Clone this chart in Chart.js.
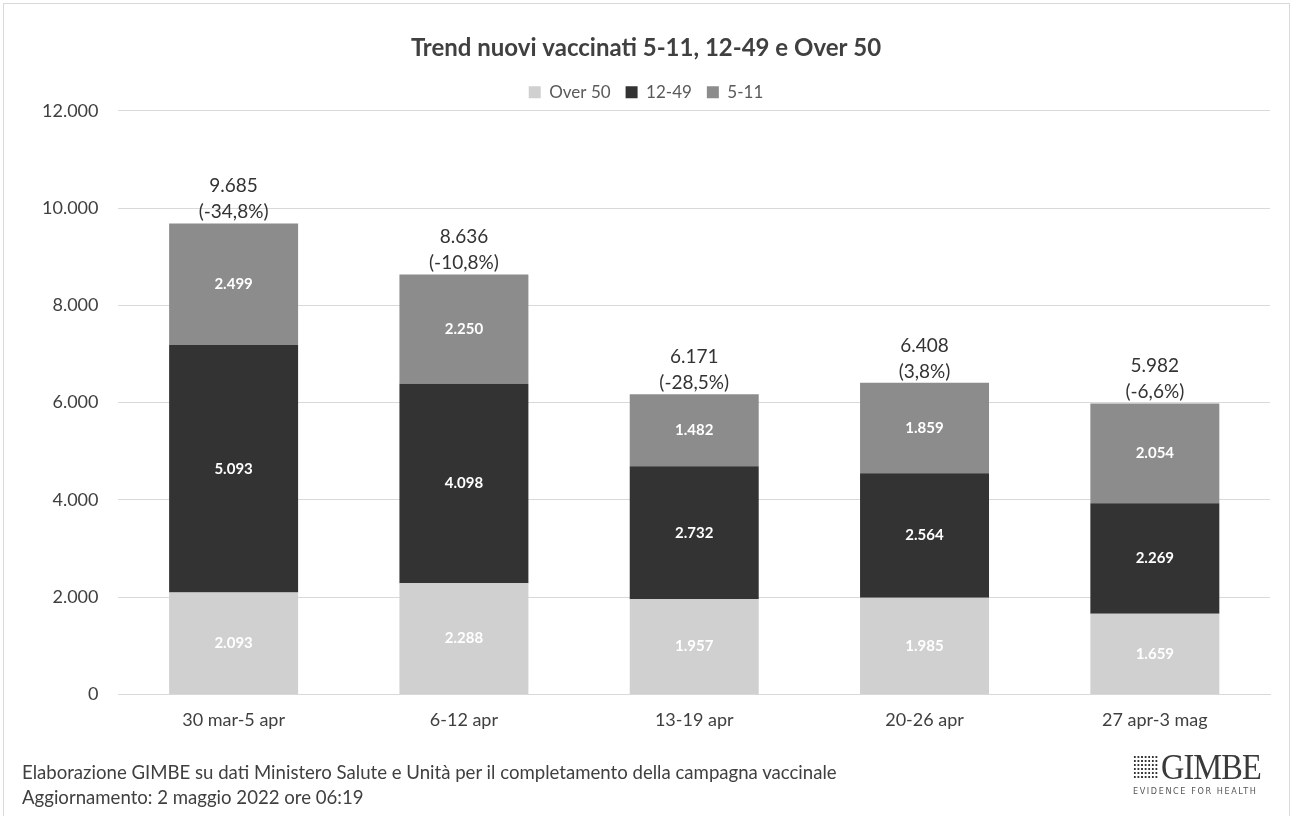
<!DOCTYPE html>
<html>
<head>
<meta charset="utf-8">
<script src="https://cdn.jsdelivr.net/npm/chart.js@4.4.1/dist/chart.umd.min.js"></script>
<style>
  html, body { margin: 0; padding: 0; background: #fff; }
  #wrap { position: relative; width: 1297px; height: 816px; overflow: hidden; font-family: Lato, "Open Sans", sans-serif; }
  #frame { position: absolute; left: 3px; top: 3px; width: 1287px; height: 830px; border: 1px solid #d9d9d9; box-sizing: border-box; }
  #chart-box { position: absolute; left: 0; top: 0; width: 1297px; height: 816px; }
  .note { position: absolute; left: 22px; color: #404040; font-size: 18.6px; }
  #logo { position: absolute; left: 1133px; top: 750px; color: #3a3a3a; }
  #logo .name { font-family: "Liberation Serif", serif; font-size: 36px; letter-spacing: -1px; line-height: 34px; transform: scaleX(0.9); transform-origin: left; white-space: nowrap; }
  #logo .tag { font-family: "DejaVu Sans Condensed", sans-serif; font-size: 9px; letter-spacing: 1.6px; color: #555; margin-top: 2px; }
  #logo .icon { display: inline-block; width: 28px; height: 24px; margin-right: 3px; vertical-align: 0px;
    background-image: radial-gradient(circle, #333 1.3px, transparent 1.5px); background-size: 4px 4px; }
</style>
</head>
<body>
<div id="wrap">
  <div id="frame"></div>
  <div id="chart-box"><canvas id="chart"></canvas></div>
  <div class="note" style="top:761px">Elaborazione GIMBE su dati Ministero Salute e Unità per il completamento della campagna vaccinale</div>
  <div class="note" style="top:786px">Aggiornamento: 2 maggio 2022 ore 06:19</div>
  <div id="logo"><div class="name"><span class="icon"></span>GIMBE</div><div class="tag">EVIDENCE FOR HEALTH</div></div>
</div>
<script>
// chart values
const weeks = ['30 mar-5 apr', '6-12 apr', '13-19 apr', '20-26 apr', '27 apr-3 mag'];
const over50 = [2093, 2288, 1957, 1985, 1659];
const age12to49 = [5093, 4098, 2732, 2564, 2269];
const age5to11 = [2499, 2250, 1482, 1859, 2054];
const weekTotals = [9685, 8636, 6171, 6408, 5982];
const weekChange = ['-34,8%', '-10,8%', '-28,5%', '3,8%', '-6,6%'];
const yTicks = [0, 2000, 4000, 6000, 8000, 10000, 12000];

const fmt = v => v.toLocaleString('it-IT');
const FONT = 'Lato, "Open Sans", sans-serif';

// white numbers inside each segment, totals + change above each stack
const barLabels = {
  id: 'barLabels',
  afterDatasetsDraw(chart) {
    const ctx = chart.ctx;
    ctx.save();
    ctx.textAlign = 'center';
    ctx.textBaseline = 'middle';
    ctx.font = 'bold 15px ' + FONT;
    ctx.fillStyle = '#ffffff';
    chart.data.datasets.forEach((ds, di) => {
      chart.getDatasetMeta(di).data.forEach((bar, i) => {
        const mid = (bar.y + bar.base) / 2;
        ctx.fillText(fmt(ds.data[i]), bar.x, mid);
      });
    });
    const top = chart.getDatasetMeta(chart.data.datasets.length - 1).data;
    ctx.fillStyle = '#333333';
    ctx.font = '19px ' + FONT;
    ctx.textBaseline = 'alphabetic';
    top.forEach((bar, i) => {
      ctx.fillText(fmt(weekTotals[i]), bar.x, bar.y - 31);
      ctx.fillText('(' + weekChange[i] + ')', bar.x, bar.y - 5);
    });
    ctx.restore();
  }
};

const seriesStyle = (label, data, color) => ({
  label, data, backgroundColor: color, borderWidth: 0,
  barPercentage: 0.56, categoryPercentage: 1
});

new Chart(document.getElementById('chart'), {
  type: 'bar',
  data: {
    labels: weeks,
    datasets: [
      seriesStyle('Over 50', over50, '#d0d0d0'),
      seriesStyle('12-49', age12to49, '#333333'),
      seriesStyle('5-11', age5to11, '#8c8c8c')
    ]
  },
  options: {
    responsive: true,
    maintainAspectRatio: false,
    animation: false,
    layout: { padding: { left: 22, right: 27, top: 34, bottom: 78 } },
    plugins: {
      title: {
        display: true,
        text: 'Trend nuovi vaccinati 5-11, 12-49 e Over 50',
        color: '#404040',
        font: { family: FONT, size: 24, weight: 'bold' },
        padding: { top: 0, bottom: 6 }
      },
      legend: {
        position: 'top',
        labels: {
          color: '#595959',
          font: { family: FONT, size: 17 },
          boxWidth: 12, boxHeight: 12, padding: 15
        }
      },
      tooltip: { enabled: false }
    },
    scales: {
      x: {
        stacked: true,
        grid: { display: false },
        border: { color: '#d9d9d9' },
        ticks: { color: '#404040', font: { family: FONT, size: 18 }, padding: 7 }
      },
      y: {
        stacked: true,
        min: 0, max: 12000,
        afterBuildTicks: axis => { axis.ticks = yTicks.map(v => ({ value: v })); },
        grid: { color: '#d9d9d9', drawTicks: false },
        border: { display: false },
        ticks: { color: '#404040', font: { family: FONT, size: 18 }, padding: 20, callback: v => fmt(v) }
      }
    }
  },
  plugins: [barLabels]
});
</script>
</body>
</html>
